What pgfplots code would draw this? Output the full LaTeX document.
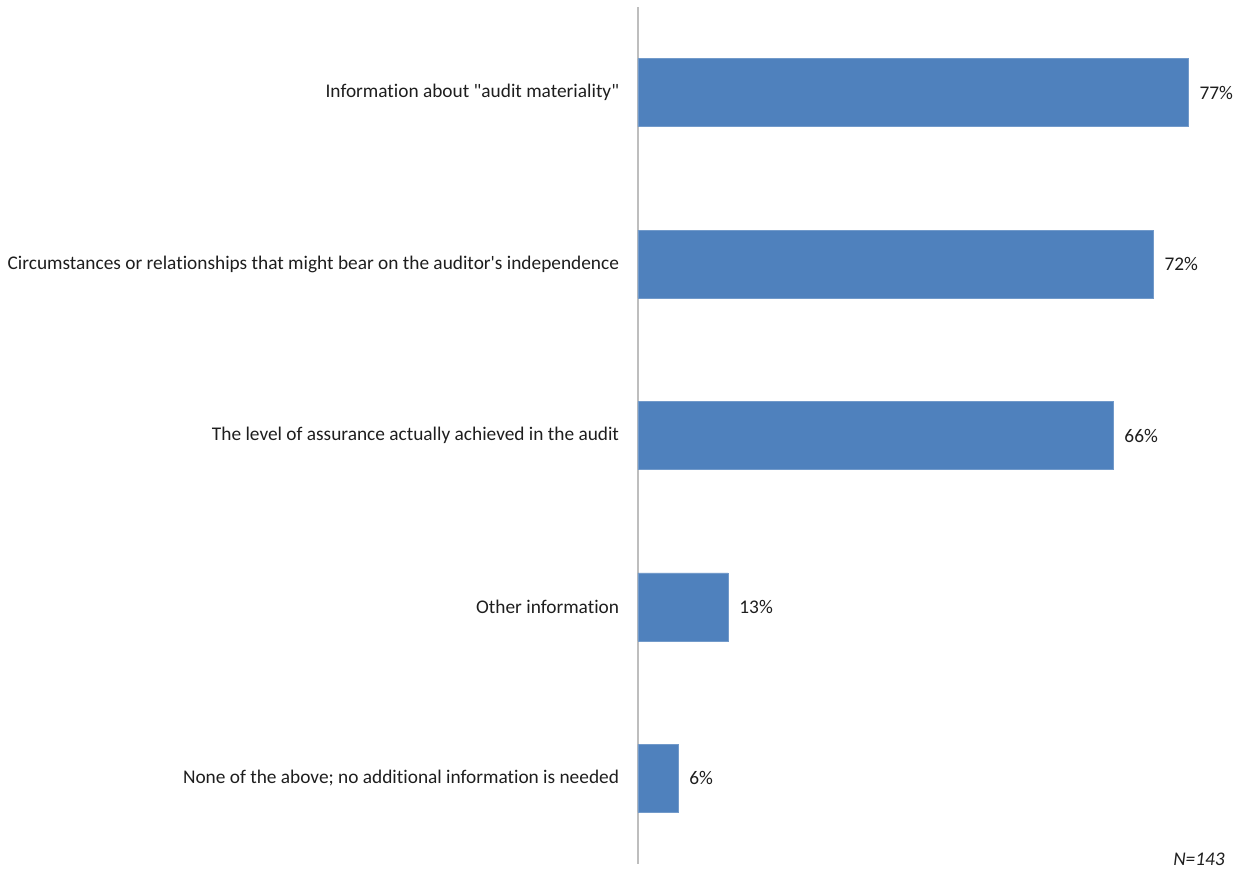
\documentclass[border=0pt]{standalone}
\usepackage{fontspec}
\setmainfont{Carlito}[Ligatures={NoCommon}]
\usepackage{pgfplots}
\pgfplotsset{compat=1.18}
\definecolor{barblue}{RGB}{79,129,189}
\definecolor{axgray}{RGB}{190,190,190}
\definecolor{txt}{RGB}{30,30,30}
\newcommand{\lbl}{\fontsize{14.5}{17}\selectfont}
\begin{document}
\begin{tikzpicture}[x=0.75pt,y=0.75pt]
\path[use as bounding box] (-638,-8) rectangle (606,864);
\begin{axis}[
  at={(0,0)}, anchor=south west,
  scale only axis,
  width=429.4pt, height=642.75pt,
  xmin=0, xmax=80,
  ymin=0.5, ymax=5.5,
  y dir=reverse,
  xbar,
  bar width=51pt,
  axis x line=none,
  axis y line=left,
  y axis line style={-, draw=axgray, line width=1.1pt},
  ytick={1,2,3,4,5},
  major tick length=0pt,
  /pgf/number format/assume math mode=true,
  yticklabels={Information about \textquotedbl audit materiality\textquotedbl,
    Circumstances or relationships that might bear on the auditor\textquotesingle s independence,
    The level of assurance actually achieved in the audit,
    Other information,
    None of the above; no additional information is needed},
  yticklabel style={font=\lbl, text=txt, inner sep=0pt, anchor=east, xshift=-14pt},
  nodes near coords={\pgfmathprintnumber[fixed,precision=0,assume math mode=true]{\pgfplotspointmeta}\%},
  every node near coord/.append style={font=\lbl, text=txt, anchor=west, inner sep=0pt, xshift=8.25pt},
  clip=false,
]
\addplot[fill=barblue, draw=barblue!80!white] coordinates {(76.9,1) (72.0,2) (66.4,3) (12.6,4) (5.6,5)};
\end{axis}
\node[anchor=base east, font=\lbl\itshape, text=txt, inner sep=0pt] at (587,-1) {N=143};
\end{tikzpicture}
\end{document}
